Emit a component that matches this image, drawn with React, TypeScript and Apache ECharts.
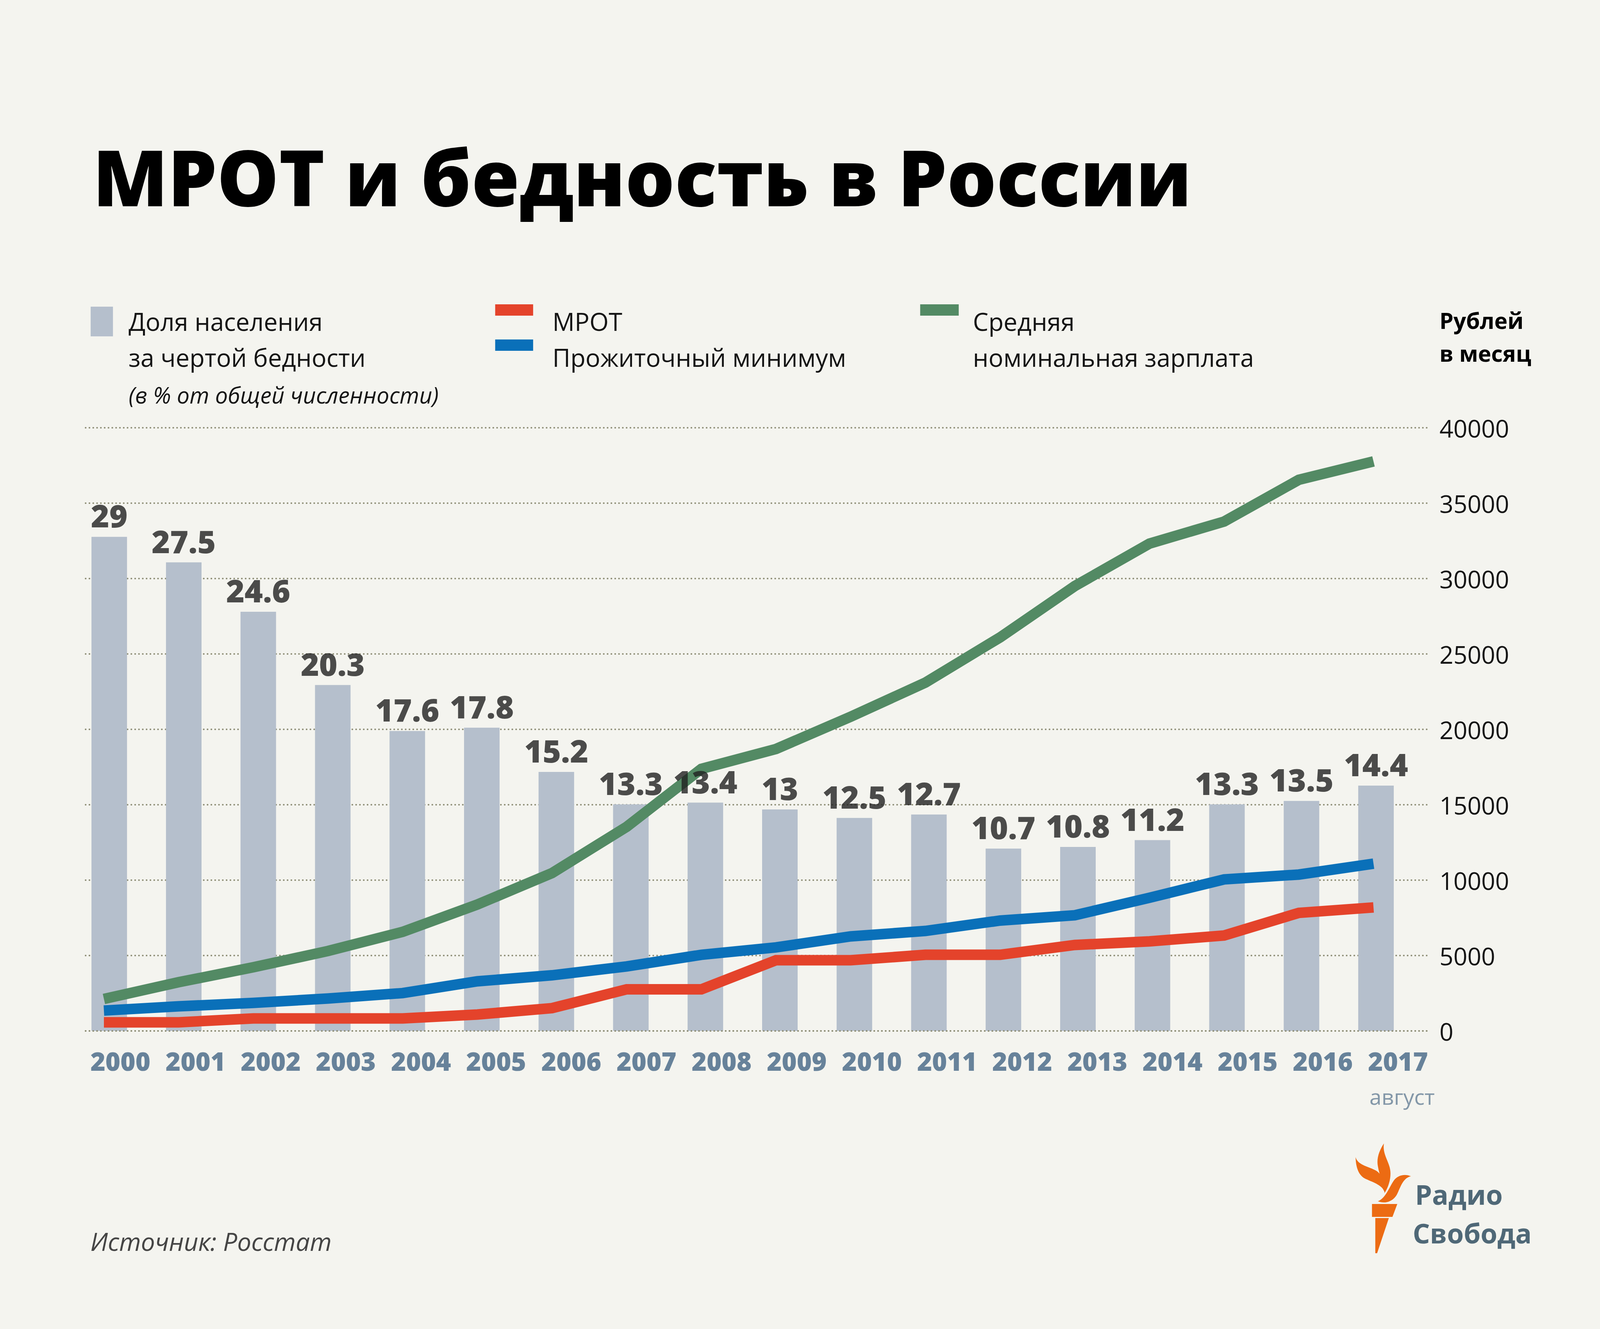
import React, { useEffect, useRef } from 'react';
import * as echarts from 'echarts';

// ---- data ----
const years = ['2000', '2001', '2002', '2003', '2004', '2005', '2006', '2007', '2008', '2009', '2010', '2011', '2012', '2013', '2014', '2015', '2016', '2017'];
const povertyShare = [29, 27.5, 24.6, 20.3, 17.6, 17.8, 15.2, 13.3, 13.4, 13, 12.5, 12.7, 10.7, 10.8, 11.2, 13.3, 13.5, 14.4];
const mrot = [570, 570, 830, 830, 830, 1090, 1510, 2760, 2760, 4690, 4690, 5050, 5050, 5700, 5940, 6330, 7830, 8190];
const subsistence = [1350, 1630, 1860, 2150, 2510, 3290, 3690, 4280, 5050, 5540, 6270, 6630, 7320, 7670, 8830, 10050, 10370, 11090];
const avgWage = [2120, 3230, 4220, 5300, 6570, 8380, 10470, 13540, 17380, 18700, 20840, 23100, 26100, 29500, 32320, 33780, 36550, 37770];
const rubleMin = 0;
const rubleMax = 40000;
const rubleStep = 5000;
const shareMax = 35.4;

// reference design size
const W = 5312;
const H = 3402;
const FONT = '"Open Sans", "Noto Sans", sans-serif';
const BG = '#f4f4ef';
const BAR = '#b5bfcc';
const RED = '#e4432b';
const BLUE = '#0a70b9';
const GREEN = '#538a64';
const ORANGE = '#ec6b13';
const SLATE = '#67829a';
const INK = '#141414';

const flames =
  'M4595,2927 C4580,2945 4570,2965 4575,2985 C4580,3010 4595,3030 4597,3054 C4610,3040 4620,3015 4616,2995 C4612,2972 4590,2955 4595,2927 Z ' +
  'M4501,2962 C4502,2990 4512,3010 4535,3018 C4565,3028 4590,3035 4596,3050 C4598,3030 4592,3005 4565,2995 C4540,2985 4508,2982 4501,2962 Z ' +
  'M4685,3011 C4665,3004 4640,3008 4628,3022 C4612,3040 4600,3068 4575,3075 C4600,3083 4628,3075 4640,3055 C4652,3035 4660,3015 4685,3011 Z';

let registered = false;
function registerLogo() {
  if (registered) return;
  echarts.graphic.registerShape('rsFlames', echarts.graphic.extendPath(flames, {}));
  registered = true;
}

function buildOption(vw: number, vh: number) {
  const sx = vw / W;
  const sy = vh / H;
  const X = (v: number) => v * sx;
  const Y = (v: number) => v * sy;
  const F = (v: number) => v * Math.min(sx, sy);

  // text placed by its baseline in reference coordinates
  const txt = (text: string, x: number, baseline: number, size: number, extra: string, fill: string, align = 'left') => ({
    type: 'text',
    x: X(x),
    y: Y(baseline) - 0.38 * F(size),
    silent: true,
    style: { text, font: `${extra} ${F(size)}px ${FONT}`.trim(), fill, align, verticalAlign: 'middle' },
  });
  const rect = (x: number, y: number, w: number, h: number, fill: string) => ({
    type: 'rect', silent: true,
    shape: { x: X(x), y: Y(y), width: X(w), height: Y(h) },
    style: { fill },
  });
  const poly = (pts: number[][], fill: string) => ({
    type: 'polygon', silent: true,
    shape: { points: pts.map((p) => [X(p[0]), Y(p[1])]) },
    style: { fill },
  });

  const gridTop = Y(1095);
  const gridH = Y(1544);
  const dotted = { color: '#8c8c74', width: F(5), type: [0.5, X(12)] as any, cap: 'round' as any };
  const lineW = Y(27);
  const labelSize = 104;
  const xLabelSize = 85;

  return {
    animation: false,
    backgroundColor: BG,
    grid: [
      { left: X(284), top: gridTop, width: X(4457), height: gridH },
      { left: X(239), top: gridTop, width: X(4453), height: gridH },
      { left: X(221), top: gridTop, width: X(4463), height: gridH },
      { left: X(275), top: gridTop, width: X(4491), height: gridH },
    ],
    xAxis: [
      {
        gridIndex: 0, type: 'category', data: years, z: 10,
        axisLine: { show: true, lineStyle: dotted },
        axisTick: { show: false }, axisLabel: { show: false }, splitLine: { show: false },
      },
      { gridIndex: 1, type: 'category', data: years, show: false },
      { gridIndex: 2, type: 'category', data: years, show: false },
      {
        gridIndex: 3, type: 'category', data: years,
        axisLine: { show: false }, axisTick: { show: false }, splitLine: { show: false },
        axisLabel: {
          interval: 0, margin: Y(2715 - 2639) - F(xLabelSize) / 2, color: SLATE,
          fontFamily: FONT, fontWeight: 800, fontSize: F(xLabelSize), lineHeight: F(xLabelSize),
        },
      },
    ],
    yAxis: [
      {
        gridIndex: 0, type: 'value', position: 'right',
        min: rubleMin, max: rubleMax, interval: rubleStep,
        axisLine: { show: false }, axisTick: { show: false },
        splitLine: { show: true, lineStyle: dotted },
        axisLabel: {
          margin: X(38), color: INK, fontFamily: FONT, fontSize: F(81),
          formatter: (v: number) => String(v),
        },
      },
      { gridIndex: 1, type: 'value', min: 0, max: shareMax, show: false },
      { gridIndex: 2, type: 'value', min: rubleMin, max: rubleMax, show: false },
      { gridIndex: 3, type: 'value', min: 0, max: 1, show: false },
    ],
    series: [
      {
        name: 'Доля населения за чертой бедности', type: 'bar',
        xAxisIndex: 1, yAxisIndex: 1, data: povertyShare,
        barWidth: X(118), itemStyle: { color: BAR }, z: 2, silent: true,
      },
      {
        name: 'МРОТ', type: 'line', xAxisIndex: 2, yAxisIndex: 2, data: mrot,
        symbol: 'none', z: 3, silent: true,
        lineStyle: { color: RED, width: lineW, join: 'miter', cap: 'butt' },
      },
      {
        name: 'Прожиточный минимум', type: 'line', xAxisIndex: 2, yAxisIndex: 2, data: subsistence,
        symbol: 'none', z: 3, silent: true,
        lineStyle: { color: BLUE, width: lineW, join: 'miter', cap: 'butt' },
      },
      {
        name: 'Средняя номинальная зарплата', type: 'line', xAxisIndex: 2, yAxisIndex: 2, data: avgWage,
        symbol: 'none', z: 3, silent: true,
        lineStyle: { color: GREEN, width: lineW, join: 'miter', cap: 'butt' },
      },
      {
        name: 'labels', type: 'scatter', xAxisIndex: 1, yAxisIndex: 1, data: povertyShare,
        symbolSize: 0, z: 6, silent: true, itemStyle: { color: 'rgba(0,0,0,0)' },
        label: {
          show: true, position: 'top', distance: Y(25) - 0.12 * F(labelSize),
          color: '#202020', fontFamily: FONT, fontWeight: 800,
          fontSize: F(labelSize), lineHeight: F(labelSize),
          formatter: (p: any) => String(p.value),
        },
      },
    ],
    graphic: [
      txt('МРОТ и бедность в России', 308, 526, 258, '800', '#000000'),
      // legend
      rect(301, 785, 74, 76, BAR),
      txt('Доля населения', 427, 847, 82, '', INK),
      txt('за чертой бедности', 427, 939, 82, '', INK),
      txt('(в % от общей численности)', 427, 1032, 75, 'italic', INK),
      rect(1644, 779, 126, 29, RED),
      txt('МРОТ', 1834, 847, 82, '', INK),
      rect(1644, 869, 126, 29, BLUE),
      txt('Прожиточный минимум', 1834, 939, 82, '', INK),
      rect(3055, 779, 128, 29, GREEN),
      txt('Средняя', 3230, 847, 82, '', INK),
      txt('номинальная зарплата', 3230, 939, 82, '', INK),
      txt('Рублей', 4779, 842, 74, 'bold', '#000000'),
      txt('в месяц', 4779, 926, 74, 'bold', '#000000'),
      txt('август', 4655, 2828, 72, '', '#8397a8', 'center'),
      txt('Источник: Росстат', 300, 3202, 83, 'italic', '#454545'),
      // logo
      { type: 'rsFlames', x: 0, y: 0, scaleX: sx, scaleY: sy, style: { fill: ORANGE }, silent: true },
      poly([[4555, 3082], [4639, 3082], [4623, 3115], [4555, 3115]], ORANGE),
      poly([[4566, 3118], [4611, 3118], [4572, 3208], [4566, 3208]], ORANGE),
      txt('Радио', 4698, 3083, 90, 'bold', '#4f6877'),
      txt('Свобода', 4690, 3182, 90, 'bold', '#4f6877'),
    ],
  };
}

export default function App() {
  const ref = useRef<HTMLDivElement>(null);
  const vw = (typeof window !== 'undefined' && window.innerWidth) || W;
  const vh = (typeof window !== 'undefined' && window.innerHeight) || H;

  useEffect(() => {
    document.body.style.margin = '0';
    document.body.style.overflow = 'hidden';
    document.body.style.background = BG;
    registerLogo();
    const chart = echarts.init(ref.current!, undefined, { renderer: 'svg', width: vw, height: vh });
    chart.setOption(buildOption(vw, vh));
    return () => chart.dispose();
  }, []);

  return (
    <div
      ref={ref}
      style={{ position: 'fixed', left: 0, top: 0, width: vw, height: vh, background: BG, overflow: 'hidden' }}
    />
  );
}
